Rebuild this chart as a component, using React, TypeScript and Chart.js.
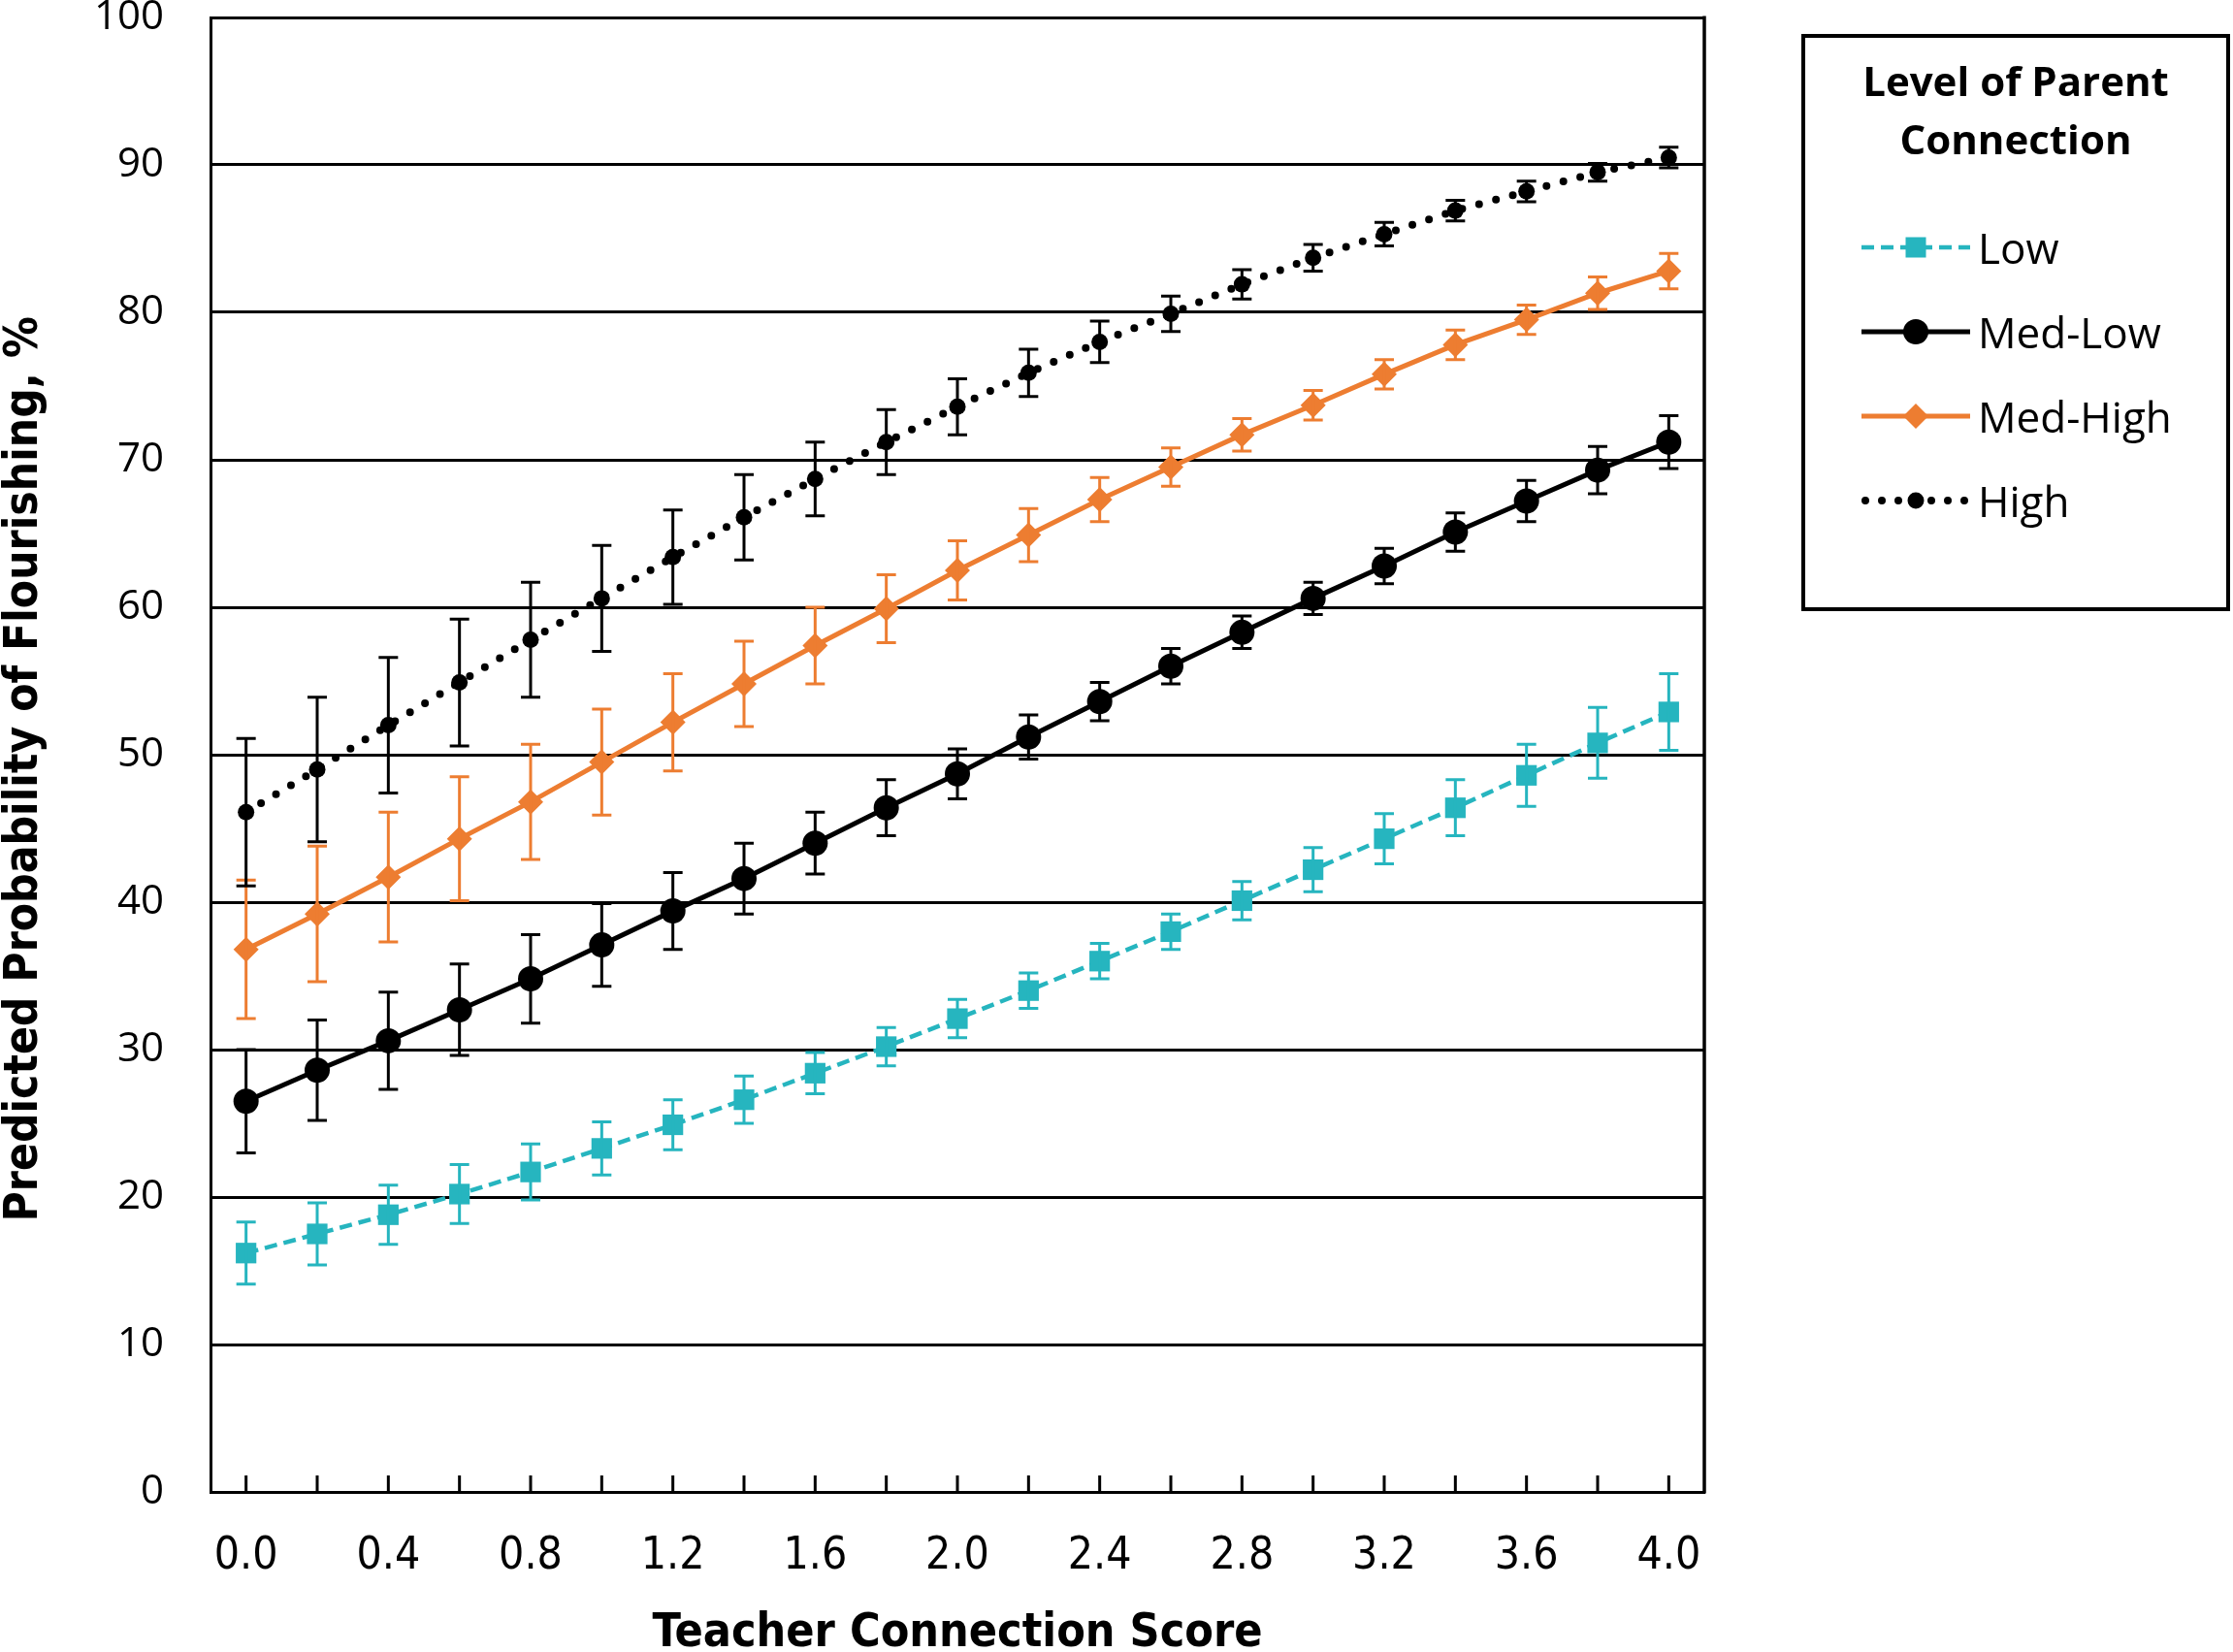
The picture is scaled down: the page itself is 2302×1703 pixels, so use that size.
import { useEffect, useRef } from "react"
import { Chart, registerables } from "chart.js"

Chart.register(...registerables)

const teacherScores = [
  "0.0", "0.2", "0.4", "0.6", "0.8", "1.0", "1.2", "1.4", "1.6", "1.8", "2.0",
  "2.2", "2.4", "2.6", "2.8", "3.0", "3.2", "3.4", "3.6", "3.8", "4.0",
]

const lowValues = [16.2, 17.5, 18.8, 20.2, 21.7, 23.3, 24.9, 26.6, 28.4, 30.2, 32.1, 34.0, 36.0, 38.0, 40.1, 42.2, 44.3, 46.4, 48.6, 50.8, 52.9]
const lowErrors = [2.1, 2.1, 2.0, 2.0, 1.9, 1.8, 1.7, 1.6, 1.4, 1.3, 1.3, 1.2, 1.2, 1.2, 1.3, 1.5, 1.7, 1.9, 2.1, 2.4, 2.6]

const medLowValues = [26.5, 28.6, 30.6, 32.7, 34.8, 37.1, 39.4, 41.6, 44.0, 46.4, 48.7, 51.2, 53.6, 56.0, 58.3, 60.6, 62.8, 65.1, 67.2, 69.3, 71.2]
const medLowErrors = [3.5, 3.4, 3.3, 3.1, 3.0, 2.8, 2.6, 2.4, 2.1, 1.9, 1.7, 1.5, 1.3, 1.2, 1.1, 1.1, 1.2, 1.3, 1.4, 1.6, 1.8]

const medHighValues = [36.8, 39.2, 41.7, 44.3, 46.8, 49.5, 52.2, 54.8, 57.4, 59.9, 62.5, 64.9, 67.3, 69.5, 71.7, 73.7, 75.8, 77.8, 79.5, 81.3, 82.8]
const medHighErrors = [4.7, 4.6, 4.4, 4.2, 3.9, 3.6, 3.3, 2.9, 2.6, 2.3, 2.0, 1.8, 1.5, 1.3, 1.1, 1.0, 1.0, 1.0, 1.0, 1.1, 1.2]

const highValues = [46.1, 49.0, 52.0, 54.9, 57.8, 60.6, 63.4, 66.1, 68.7, 71.2, 73.6, 75.9, 78.0, 79.9, 81.9, 83.7, 85.3, 86.9, 88.2, 89.5, 90.5]
const highErrors = [5.0, 4.9, 4.6, 4.3, 3.9, 3.6, 3.2, 2.9, 2.5, 2.2, 1.9, 1.6, 1.4, 1.2, 1.0, 0.9, 0.8, 0.7, 0.7, 0.6, 0.7]

const TEAL = "#26b5bf"
const ORANGE = "#ed7d31"
const BLACK = "#000000"

const narrowFont = "'DejaVu Sans Condensed', 'Liberation Sans Narrow', 'DejaVu Sans', sans-serif"
const wideFont = "'Open Sans', 'Noto Sans', sans-serif"

// whiskers drawn with each series, through the y scale
const errorBarPlugin = {
  id: "errorBars",
  afterDatasetDraw(chart: any, args: any) {
    const ds = chart.data.datasets[args.index]
    const errs: number[] | undefined = ds.errors
    if (!errs) return
    const ctx = chart.ctx
    const y = chart.scales.y
    ctx.save()
    ctx.strokeStyle = ds.borderColor
    ctx.lineWidth = 3
    ctx.setLineDash([])
    args.meta.data.forEach((pt: any, i: number) => {
      const v = ds.data[i]
      const top = y.getPixelForValue(v + errs[i])
      const bot = y.getPixelForValue(v - errs[i])
      ctx.beginPath()
      ctx.moveTo(pt.x, top)
      ctx.lineTo(pt.x, bot)
      ctx.moveTo(pt.x - 10, top)
      ctx.lineTo(pt.x + 10, top)
      ctx.moveTo(pt.x - 10, bot)
      ctx.lineTo(pt.x + 10, bot)
      ctx.stroke()
    })
    ctx.restore()
  },
}

// right border of the plot and the inward tick marks on the x axis
const framePlugin = {
  id: "frame",
  beforeDatasetsDraw(chart: any) {
    const { ctx, chartArea } = chart
    const x = chart.scales.x
    ctx.save()
    ctx.strokeStyle = BLACK
    ctx.lineWidth = 3.5
    ctx.beginPath()
    ctx.moveTo(chartArea.right, chartArea.top - 1.5)
    ctx.lineTo(chartArea.right, chartArea.bottom + 1.5)
    ctx.stroke()
    ctx.lineWidth = 3
    ctx.beginPath()
    teacherScores.forEach((_, i) => {
      const px = x.getPixelForValue(i)
      ctx.moveTo(px, chartArea.bottom)
      ctx.lineTo(px, chartArea.bottom - 17)
    })
    ctx.stroke()
    ctx.restore()
  },
}

function FlourishingChart() {
  const chartRef = useRef<HTMLCanvasElement>(null)
  const chartInstance = useRef<Chart | null>(null)

  useEffect(() => {
    if (!chartRef.current) return
    if (chartInstance.current) chartInstance.current.destroy()
    const ctx = chartRef.current.getContext("2d")
    if (!ctx) return

    chartInstance.current = new Chart(ctx, {
      type: "line",
      data: {
        labels: teacherScores,
        datasets: [
          {
            label: "High",
            data: highValues,
            errors: highErrors,
            borderColor: BLACK,
            backgroundColor: BLACK,
            borderWidth: 8,
            borderDash: [0, 18],
            borderCapStyle: "round",
            pointStyle: "circle",
            pointRadius: 8.5,
            pointBorderWidth: 0,
            order: 0,
          },
          {
            label: "Med-High",
            data: medHighValues,
            errors: medHighErrors,
            borderColor: ORANGE,
            backgroundColor: ORANGE,
            borderWidth: 5,
            pointStyle: "rectRot",
            pointRadius: 13,
            pointBorderWidth: 0,
            order: 1,
          },
          {
            label: "Med-Low",
            data: medLowValues,
            errors: medLowErrors,
            borderColor: BLACK,
            backgroundColor: BLACK,
            borderWidth: 5,
            pointStyle: "circle",
            pointRadius: 13,
            pointBorderWidth: 0,
            order: 2,
          },
          {
            label: "Low",
            data: lowValues,
            errors: lowErrors,
            borderColor: TEAL,
            backgroundColor: TEAL,
            borderWidth: 4.5,
            borderDash: [13, 7],
            pointStyle: "rect",
            pointRadius: 15,
            pointBorderWidth: 0,
            order: 3,
          },
        ] as any,
      },
      options: {
        animation: false,
        responsive: true,
        maintainAspectRatio: false,
        devicePixelRatio: 1,
        events: [],
        layout: { padding: { top: 18, right: 545, bottom: 0, left: 0 } },
        plugins: {
          legend: { display: false },
          tooltip: { enabled: false },
        },
        scales: {
          x: {
            type: "category",
            offset: true,
            grid: { display: false, drawTicks: false },
            border: { display: true, color: BLACK, width: 3 },
            ticks: {
              autoSkip: false,
              maxRotation: 0,
              padding: 39,
              color: BLACK,
              font: { family: narrowFont, size: 46 },
              callback: (_v: any, i: number) => (i % 2 === 0 ? teacherScores[i] : ""),
            },
            title: {
              display: true,
              text: "Teacher Connection Score",
              color: BLACK,
              padding: 0,
              font: { family: narrowFont, size: 48, weight: "bold", lineHeight: 0.79 },
            },
            afterFit: (scale: any) => {
              scale.height = 165
            },
          },
          y: {
            min: 0,
            max: 100,
            ticks: {
              stepSize: 10,
              padding: 0,
              color: BLACK,
              font: { family: wideFont, size: 42, lineHeight: 0.8 },
            },
            grid: {
              color: BLACK,
              lineWidth: 3,
              drawTicks: true,
              tickLength: 48,
              tickColor: "rgba(0,0,0,0)",
            },
            border: { display: true, color: BLACK, width: 3 },
            title: {
              display: true,
              // two trailing spaces nudge the rotated title down to where the original sits
              text: "Predicted Probability of Flourishing, %  ",
              color: BLACK,
              padding: 0,
              font: { family: narrowFont, size: 47.5, weight: "bold", lineHeight: 1.1 },
            },
            afterFit: (scale: any) => {
              scale.width = 217
            },
          },
        },
      } as any,
      plugins: [framePlugin, errorBarPlugin],
    })

    return () => {
      if (chartInstance.current) {
        chartInstance.current.destroy()
        chartInstance.current = null
      }
    }
  }, [])

  return (
    <div style={{ position: "absolute", left: 0, top: 0, width: 2302, height: 1703 }}>
      <canvas ref={chartRef} />
    </div>
  )
}

const legendRows = [
  { label: "Low", color: TEAL, width: 4.5, dash: "13 7", cap: "butt", marker: "square" },
  { label: "Med-Low", color: BLACK, width: 5, dash: "", cap: "butt", marker: "circle" },
  { label: "Med-High", color: ORANGE, width: 5, dash: "", cap: "butt", marker: "diamond" },
  { label: "High", color: BLACK, width: 8, dash: "0 17", cap: "round", marker: "dot" },
]

function LegendSample({ row }: { row: (typeof legendRows)[number] }) {
  const cx = 58
  const cy = 20
  let marker = null
  if (row.marker === "square") marker = <rect x={cx - 10.5} y={cy - 10.5} width={21} height={21} fill={row.color} />
  if (row.marker === "circle") marker = <circle cx={cx} cy={cy} r={13} fill={row.color} />
  if (row.marker === "diamond")
    marker = <polygon points={`${cx - 13},${cy} ${cx},${cy - 13} ${cx + 13},${cy} ${cx},${cy + 13}`} fill={row.color} />
  if (row.marker === "dot") marker = <circle cx={cx} cy={cy} r={8.5} fill={row.color} />
  return (
    <svg width={116} height={40} style={{ display: "block" }}>
      <line
        x1={row.cap === "round" ? 6 : 2}
        y1={cy}
        x2={row.cap === "round" ? 110 : 114}
        y2={cy}
        stroke={row.color}
        strokeWidth={row.width}
        strokeDasharray={row.dash || undefined}
        strokeLinecap={row.cap as any}
      />
      {marker}
    </svg>
  )
}

function Legend() {
  return (
    <div
      style={{
        position: "absolute",
        left: 1857,
        top: 35,
        width: 442,
        height: 595,
        border: "4px solid #000",
        boxSizing: "border-box",
        fontFamily: wideFont,
        color: "#000",
      }}
    >
      <div
        style={{
          position: "absolute",
          left: 0,
          right: 0,
          top: 14,
          textAlign: "center",
          fontWeight: "bold",
          fontSize: 42,
          lineHeight: "60px",
        }}
      >
        Level of Parent
        <br />
        Connection
      </div>
      {legendRows.map((row, i) => (
        <div
          key={row.label}
          style={{
            position: "absolute",
            left: 56,
            top: 186 + i * 87,
            height: 60,
            display: "flex",
            alignItems: "center",
          }}
        >
          <LegendSample row={row} />
          <span style={{ marginLeft: 6, fontSize: 44, lineHeight: "60px", whiteSpace: "nowrap" }}>{row.label}</span>
        </div>
      ))}
    </div>
  )
}

export default function App() {
  return (
    <div style={{ position: "absolute", left: 0, top: 0, width: 2302, height: 1703, background: "#fff" }}>
      <FlourishingChart />
      <Legend />
    </div>
  )
}
